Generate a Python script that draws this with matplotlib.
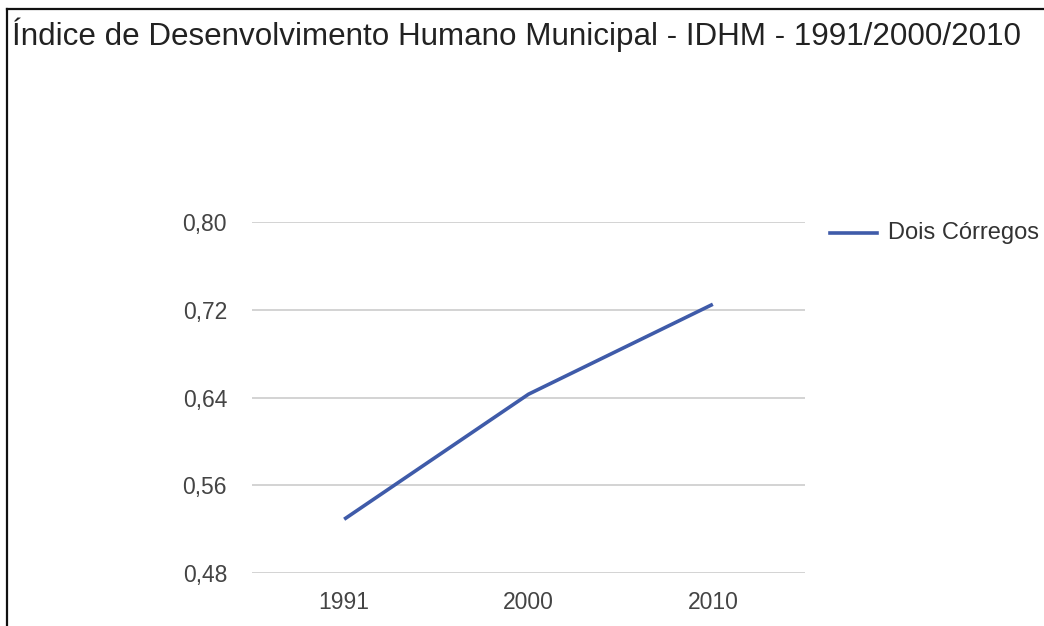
import matplotlib
matplotlib.use("Agg")
import matplotlib.pyplot as plt
from matplotlib.lines import Line2D

anos = ["1991", "2000", "2010"]
idhm = [0.529, 0.643, 0.725]
yticks = [0.48, 0.56, 0.64, 0.72, 0.80]
serie = "Dois Córregos"
titulo = "Índice de Desenvolvimento Humano Municipal - IDHM - 1991/2000/2010"

plt.rcParams['font.family'] = ['Liberation Sans', 'DejaVu Sans']

fig = plt.figure(figsize=(10.44, 6.26), dpi=100)
ax = fig.add_axes([252/1044, 1 - 573/626, (805-252)/1044, (573-222)/626])

x = list(range(len(anos)))
ax.plot(x, idhm, color="#3f5ba9", lw=2.6, solid_capstyle="butt")

ax.set_xlim(-0.5, 2.5)
ax.set_ylim(0.48, 0.80)
ax.set_yticks(yticks)
ax.set_yticklabels([f"{v:.2f}".replace(".", ",") for v in yticks])
ax.set_xticks(x)
ax.set_xticklabels(anos)
ax.tick_params(length=0, labelsize=16.5, labelcolor="#444444")
ax.tick_params(axis="y", pad=18)
ax.tick_params(axis="x", pad=13)
ax.grid(axis="y", color="#cccccc", lw=1.2)
ax.set_axisbelow(True)
for s in ax.spines.values():
    s.set_visible(False)

# legend
fig.add_artist(Line2D([830/1044, 877/1044], [1 - 233/626, 1 - 233/626],
                      color="#3f5ba9", lw=2.6, transform=fig.transFigure))
fig.text(888/1044, 1 - 233/626, serie, fontsize=17, color="#333333",
         va="center", ha="left")

# title
fig.text(12/1044, 1 - 35/626, titulo, fontsize=22.6, color="#222222",
         va="center", ha="left")

# frame
fig.add_artist(Line2D([7/1044, 7/1044], [0, 1 - 9/626], color="#111111",
                      lw=1.6, transform=fig.transFigure))
fig.add_artist(Line2D([7/1044, 1], [1 - 9/626, 1 - 9/626], color="#111111",
                      lw=1.6, transform=fig.transFigure))

fig.savefig("out.png", dpi=100)
